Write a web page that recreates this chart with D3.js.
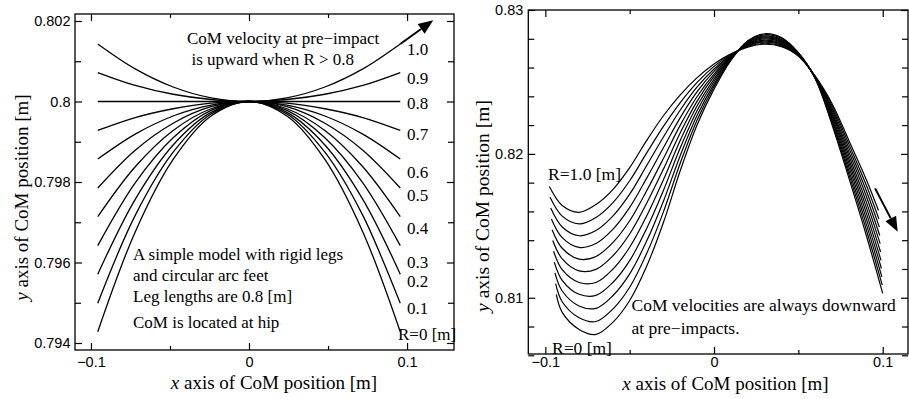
<!DOCTYPE html>
<html><head><meta charset="utf-8">
<script src="https://cdn.jsdelivr.net/npm/d3@7"></script>
<style>html,body{margin:0;padding:0;background:#fff;}svg{display:block;}</style>
</head><body>
<svg id="c" width="909" height="399"></svg>
<script>
// ---------------- LEFT PANEL DATA ----------------
const leftX = [-0.0957, -0.072, -0.048, -0.024, 0, 0.024, 0.048, 0.072, 0.0957];
const left_R00 = [0.79428, 0.79676, 0.79856, 0.79964, 0.8, 0.79964, 0.79856, 0.79676, 0.79428];
const left_R01 = [0.79499, 0.79717, 0.79874, 0.79969, 0.8, 0.79969, 0.79874, 0.79717, 0.79499];
const left_R02 = [0.79571, 0.79757, 0.79892, 0.79973, 0.8, 0.79973, 0.79892, 0.79757, 0.79571];
const left_R03 = [0.79642, 0.79798, 0.79910, 0.79978, 0.8, 0.79978, 0.79910, 0.79798, 0.79642];
const left_R04 = [0.79714, 0.79838, 0.79928, 0.79982, 0.8, 0.79982, 0.79928, 0.79838, 0.79714];
const left_R05 = [0.79785, 0.79879, 0.79946, 0.79987, 0.8, 0.79987, 0.79946, 0.79879, 0.79785];
const left_R06 = [0.79857, 0.79919, 0.79964, 0.79991, 0.8, 0.79991, 0.79964, 0.79919, 0.79857];
const left_R07 = [0.79928, 0.79960, 0.79982, 0.79996, 0.8, 0.79996, 0.79982, 0.79960, 0.79928];
const left_R08 = [0.8, 0.8, 0.8, 0.8, 0.8, 0.8, 0.8, 0.8, 0.8];
const left_R09 = [0.80072, 0.80040, 0.80018, 0.80005, 0.8, 0.80005, 0.80018, 0.80040, 0.80072];
const left_R10 = [0.80143, 0.80081, 0.80036, 0.80009, 0.8, 0.80009, 0.80036, 0.80081, 0.80143];
const leftArrowTip = [0.1166, 0.80202];
const leftCurveLabels = ["1.0", "0.9", "0.8", "0.7", "0.6", "0.5", "0.4", "0.3", "0.2", "0.1", "R=0 [m]"];
const leftXTicks = [-0.1, 0, 0.1];
const leftXTickLabels = ["\u22120.1", "0", "0.1"];
const leftXMinor = [-0.05, 0.05];
const leftYTicks = [0.794, 0.796, 0.798, 0.8, 0.802];
const leftYTickLabels = ["0.794", "0.796", "0.798", "0.8", "0.802"];
const leftYMinor = [0.795, 0.797, 0.799, 0.801];
const leftNotesTop = ["CoM velocity at pre\u2212impact", "is upward when R > 0.8"];
const leftNotesBottom = ["A simple model with rigid legs", "and circular arc feet", "Leg lengths are 0.8 [m]", "CoM is located at hip"];

// ---------------- RIGHT PANEL DATA ----------------
const rightX = [-0.09, -0.08, -0.07, -0.06, -0.05, -0.04, -0.03, -0.02, -0.01, 0, 0.01, 0.02, 0.03, 0.04, 0.05, 0.06, 0.07, 0.08, 0.09];
const rightStartX = [-0.0935, -0.0939, -0.0943, -0.0947, -0.0951, -0.0956, -0.0960, -0.0964, -0.0968, -0.0972, -0.0976];
const rightEndX = [0.1, 0.09975, 0.0995, 0.09925, 0.099, 0.09875, 0.0985, 0.09825, 0.098, 0.09775, 0.0975];
const right_R00 = [0.81023, 0.80898, 0.80780, 0.80745, 0.80829, 0.80981, 0.81217, 0.81523, 0.81884, 0.82203, 0.82450, 0.82650, 0.82787, 0.82835, 0.82808, 0.82703, 0.82523, 0.82200, 0.81830, 0.81445, 0.81030];
const right_R01 = [0.81098, 0.80972, 0.80861, 0.80835, 0.80921, 0.81073, 0.81305, 0.81597, 0.81937, 0.82236, 0.82468, 0.82655, 0.82783, 0.82828, 0.82802, 0.82701, 0.82525, 0.82215, 0.81856, 0.81483, 0.81088];
const right_R02 = [0.81173, 0.81047, 0.80943, 0.80926, 0.81014, 0.81166, 0.81392, 0.81671, 0.81989, 0.82268, 0.82485, 0.82659, 0.82778, 0.82820, 0.82795, 0.82698, 0.82526, 0.82230, 0.81882, 0.81522, 0.81145];
const right_R03 = [0.81248, 0.81121, 0.81024, 0.81016, 0.81106, 0.81258, 0.81480, 0.81746, 0.82042, 0.82301, 0.82503, 0.82664, 0.82774, 0.82813, 0.82789, 0.82696, 0.82528, 0.82245, 0.81909, 0.81560, 0.81203];
const right_R04 = [0.81323, 0.81195, 0.81106, 0.81106, 0.81198, 0.81351, 0.81567, 0.81820, 0.82094, 0.82334, 0.82520, 0.82668, 0.82769, 0.82806, 0.82783, 0.82694, 0.82530, 0.82260, 0.81935, 0.81599, 0.81260];
const right_R05 = [0.81398, 0.81270, 0.81187, 0.81197, 0.81291, 0.81443, 0.81655, 0.81894, 0.82147, 0.82367, 0.82538, 0.82673, 0.82765, 0.82799, 0.82777, 0.82692, 0.82532, 0.82275, 0.81961, 0.81637, 0.81318];
const right_R06 = [0.81473, 0.81344, 0.81268, 0.81287, 0.81383, 0.81535, 0.81742, 0.81968, 0.82200, 0.82399, 0.82555, 0.82677, 0.82760, 0.82791, 0.82770, 0.82689, 0.82533, 0.82289, 0.81987, 0.81675, 0.81376];
const right_R07 = [0.81548, 0.81418, 0.81350, 0.81377, 0.81475, 0.81628, 0.81830, 0.82042, 0.82252, 0.82432, 0.82573, 0.82682, 0.82756, 0.82784, 0.82764, 0.82687, 0.82535, 0.82304, 0.82013, 0.81714, 0.81433];
const right_R08 = [0.81623, 0.81492, 0.81431, 0.81467, 0.81567, 0.81720, 0.81917, 0.82117, 0.82305, 0.82465, 0.82590, 0.82686, 0.82751, 0.82777, 0.82758, 0.82685, 0.82537, 0.82319, 0.82040, 0.81752, 0.81491];
const right_R09 = [0.81698, 0.81567, 0.81513, 0.81558, 0.81660, 0.81813, 0.82005, 0.82191, 0.82357, 0.82497, 0.82608, 0.82691, 0.82747, 0.82769, 0.82751, 0.82682, 0.82538, 0.82334, 0.82066, 0.81791, 0.81548];
const right_R10 = [0.81773, 0.81641, 0.81594, 0.81648, 0.81752, 0.81905, 0.82092, 0.82265, 0.82410, 0.82530, 0.82625, 0.82695, 0.82742, 0.82762, 0.82745, 0.82680, 0.82540, 0.82349, 0.82092, 0.81829, 0.81606];
const rightArrowFrom = [0.0955, 0.81760];
const rightArrowTip = [0.1089, 0.81459];
const rightXTicks = [-0.1, 0, 0.1];
const rightXTickLabels = ["\u22120.1", "0", "0.1"];
const rightXMinor = [-0.05, 0.05];
const rightYTicks = [0.81, 0.82, 0.83];
const rightYTickLabels = ["0.81", "0.82", "0.83"];
const rightYMinor = [0.806, 0.808, 0.812, 0.814, 0.816, 0.818, 0.822, 0.824, 0.826, 0.828];
const rightLabelTop = "R=1.0 [m]";
const rightLabelBottom = "R=0 [m]";
const rightNotes = ["CoM velocities are always downward", "at pre\u2212impacts."];

// ---------------- DRAWING ----------------
const svg = d3.select("#c");
svg.append("rect").attr("width", 909).attr("height", 399).attr("fill", "#fff");
const SANS = "'Liberation Sans', Arial, sans-serif";
const SERIF = "'Liberation Serif', 'Times New Roman', serif";

function drawAxes(x, y, box, o) {
  const [l, t, r, b] = box;
  const g = svg.append("g");
  const style = sel => {
    sel.select(".domain").remove();
    sel.selectAll("line").attr("stroke", "#000").attr("stroke-width", 1.2);
    sel.selectAll("text").attr("font-family", SANS).attr("font-size", o.tickFont).attr("fill", "#000");
  };
  g.append("g").attr("transform", `translate(0,${b})`)
    .call(d3.axisBottom(x).tickValues(o.xt).tickSizeInner(-7).tickSizeOuter(0).tickPadding(o.xPad).tickFormat((d, i) => o.xl[i])).call(style);
  g.append("g").attr("transform", `translate(0,${b})`)
    .call(d3.axisBottom(x).tickValues(o.xm).tickSizeInner(-4).tickSizeOuter(0).tickFormat("")).call(style);
  g.append("g").attr("transform", `translate(0,${t})`)
    .call(d3.axisTop(x).tickValues(o.xt).tickSizeInner(-7).tickSizeOuter(0).tickFormat("")).call(style);
  g.append("g").attr("transform", `translate(0,${t})`)
    .call(d3.axisTop(x).tickValues(o.xm).tickSizeInner(-4).tickSizeOuter(0).tickFormat("")).call(style);
  g.append("g").attr("transform", `translate(${l},0)`)
    .call(d3.axisLeft(y).tickValues(o.yt).tickSizeInner(-7).tickSizeOuter(0).tickPadding(o.yPad).tickFormat((d, i) => o.yl[i])).call(style);
  g.append("g").attr("transform", `translate(${l},0)`)
    .call(d3.axisLeft(y).tickValues(o.ym).tickSizeInner(-6).tickSizeOuter(0).tickFormat("")).call(style);
  g.append("g").attr("transform", `translate(${r},0)`)
    .call(d3.axisRight(y).tickValues(o.yt).tickSizeInner(-7).tickSizeOuter(0).tickFormat("")).call(style);
  g.append("g").attr("transform", `translate(${r},0)`)
    .call(d3.axisRight(y).tickValues(o.ym).tickSizeInner(-6).tickSizeOuter(0).tickFormat("")).call(style);
  svg.append("rect").attr("x", l).attr("y", t).attr("width", r - l).attr("height", b - t)
    .attr("fill", "none").attr("stroke", "#000").attr("stroke-width", 1.3);
}

function arrow(x1, y1, x2, y2, len, hw) {
  const a = Math.atan2(y2 - y1, x2 - x1);
  const bx = x2 - len * Math.cos(a), by = y2 - len * Math.sin(a);
  svg.append("line").attr("x1", x1).attr("y1", y1).attr("x2", bx).attr("y2", by)
    .attr("stroke", "#000").attr("stroke-width", 2);
  const px = -Math.sin(a) * hw, py = Math.cos(a) * hw;
  svg.append("path").attr("d", `M${x2},${y2}L${bx + px},${by + py}L${bx - px},${by - py}Z`).attr("fill", "#000");
}

function title(xc, yb, size, rotate) {
  const t = svg.append("text").attr("font-family", SERIF).attr("font-size", size).attr("text-anchor", "middle").attr("fill", "#000");
  if (rotate) t.attr("transform", `translate(${xc},${yb}) rotate(-90)`);
  else t.attr("x", xc).attr("y", yb);
  t.append("tspan").attr("font-style", "italic").text(rotate ? "y" : "x");
  t.append("tspan").text(" axis of CoM position [m]");
}

// ---- Left panel ----
const xL = d3.scaleLinear().domain([-0.1101, 0.1297]).range([75, 454]);
const yL = d3.scaleLinear().domain([0.793826, 0.802174]).range([350, 14]);
const leftCurves = [left_R00, left_R01, left_R02, left_R03, left_R04, left_R05, left_R06, left_R07, left_R08, left_R09, left_R10];
const lineL = d3.line().x(d => xL(d[0])).y(d => yL(d[1])).curve(d3.curveCatmullRom.alpha(0.5));
leftCurves.forEach(ys => {
  svg.append("path").attr("d", lineL(leftX.map((x, i) => [x, ys[i]])))
    .attr("fill", "none").attr("stroke", "#000").attr("stroke-width", 1.3);
});
arrow(xL(leftX[leftX.length - 1]), yL(left_R10[left_R10.length - 1]), xL(leftArrowTip[0]), yL(leftArrowTip[1]), 15, 6);
drawAxes(xL, yL, [75, 14, 454, 350], {xt: leftXTicks, xl: leftXTickLabels, xm: leftXMinor, yt: leftYTicks, yl: leftYTickLabels, ym: leftYMinor, tickFont: 14.5, xPad: 7, yPad: 4.5});

const leftLabelY = [54.5, 83.5, 108.5, 140, 178, 200.5, 233.5, 268, 287, 313.5, 339.5];
leftCurveLabels.forEach((s, i) => {
  svg.append("text").attr("x", i === leftCurveLabels.length - 1 ? 398 : 407).attr("y", leftLabelY[i])
    .attr("font-family", SERIF).attr("font-size", 17).attr("fill", "#000").text(s);
});
[[187, 43.5], [191.5, 64.5]].forEach((p, i) => {
  svg.append("text").attr("x", p[0]).attr("y", p[1]).attr("font-family", SERIF).attr("font-size", 17).attr("fill", "#000").text(leftNotesTop[i]);
});
[260, 280.5, 301.5, 327.5].forEach((yb, i) => {
  svg.append("text").attr("x", 133).attr("y", yb).attr("font-family", SERIF).attr("font-size", 17).attr("fill", "#000").text(leftNotesBottom[i]);
});
title(274, 389, 19, false);
title(28, 197.5, 19, true);

// ---- Right panel ----
const xR = d3.scaleLinear().domain([-0.1101, 0.1150]).range([528.3, 908]);
const yR = d3.scaleLinear().domain([0.80609, 0.83]).range([354, 10]);
const rightCurves = [right_R00, right_R01, right_R02, right_R03, right_R04, right_R05, right_R06, right_R07, right_R08, right_R09, right_R10];
const lineR = d3.line().x(d => xR(d[0])).y(d => yR(d[1])).curve(d3.curveCatmullRom.alpha(0.5));
rightCurves.forEach((ys, k) => {
  const xs = [rightStartX[k], ...rightX, rightEndX[k]];
  svg.append("path").attr("d", lineR(xs.map((x, i) => [x, ys[i]])))
    .attr("fill", "none").attr("stroke", "#000").attr("stroke-width", 1.2);
});
arrow(xR(rightArrowFrom[0]), yR(rightArrowFrom[1]), xR(rightArrowTip[0]), yR(rightArrowTip[1]), 15, 6);
drawAxes(xR, yR, [528.3, 10, 908, 354], {xt: rightXTicks, xl: rightXTickLabels, xm: rightXMinor, yt: rightYTicks, yl: rightYTickLabels, ym: rightYMinor, tickFont: 14.5, xPad: 3, yPad: 5});

svg.append("text").attr("x", 548).attr("y", 180).attr("font-family", SERIF).attr("font-size", 17.5).attr("fill", "#000").text(rightLabelTop);
svg.append("text").attr("x", 552).attr("y", 354).attr("font-family", SERIF).attr("font-size", 17.5).attr("fill", "#000").text(rightLabelBottom);
[311, 334].forEach((yb, i) => {
  svg.append("text").attr("x", 631.5).attr("y", yb).attr("font-family", SERIF).attr("font-size", 17.5).attr("fill", "#000").text(rightNotes[i]);
});
title(725.5, 389.5, 19, false);
title(489, 206, 19.5, true);
</script>
</body></html>
